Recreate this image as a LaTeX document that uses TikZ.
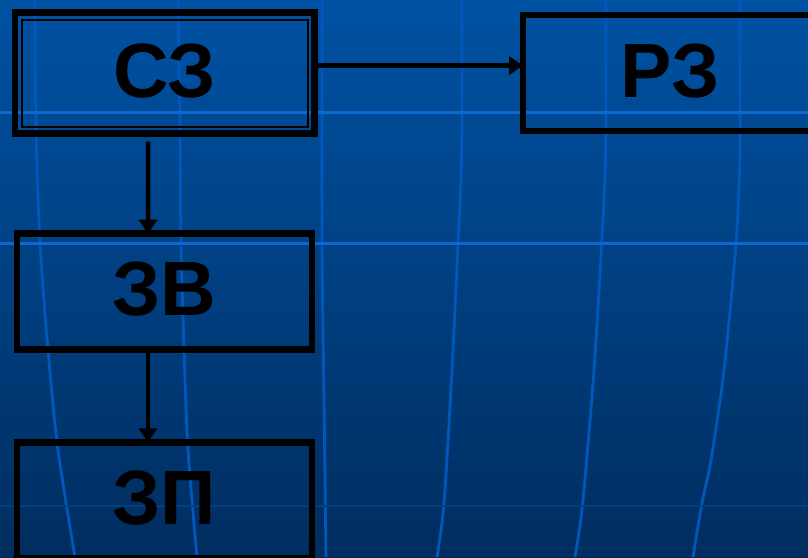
\documentclass[tikz,border=0pt]{standalone}
\usepackage{fontspec}
\setmainfont{Liberation Sans}
\usetikzlibrary{arrows.meta}
\definecolor{bgtop}{HTML}{0052A3}
\definecolor{bgbot}{HTML}{002D5F}
\definecolor{gridbright}{HTML}{0A6AD2}
\definecolor{gridcurve}{HTML}{0057BC}
\definecolor{griddark}{HTML}{00427F}
\begin{document}
\begin{tikzpicture}[x=1pt,y=-1pt,
  box/.style={draw=black,line width=6.5pt,minimum width=295pt,minimum height=116pt,
    outer sep=0pt,inner sep=0pt,font=\bfseries\fontsize{77}{80}\selectfont,text depth=5.5pt},
  arr/.style={draw=black,line width=4.5pt,-{Triangle[width=18pt,length=14pt]}},
  curve/.style={draw=gridcurve,line width=2.8pt},
  hline/.style={draw=gridbright,line width=3pt}]
\useasboundingbox (0,0) rectangle (808,557);
\clip (0,0) rectangle (808,557);
\shade[top color=bgtop,bottom color=bgbot] (0,0) rectangle (808,557);
% curved meridian lines
\draw[curve] plot[smooth] coordinates {(35,0) (36,130) (40,243) (48,350) (58,450) (75,557)};
\draw[curve] plot[smooth] coordinates {(178,0) (180,130) (181,243) (184,350) (188,450) (197,557)};
\draw[curve] plot[smooth] coordinates {(322,0) (322,243) (324,400) (326,557)};
\draw[curve] plot[smooth] coordinates {(462,0) (461.7,150) (458,243) (452,370) (444,503) (437,557)};
\draw[curve] plot[smooth] coordinates {(606,0) (605.7,150) (601.7,243) (594,370) (582.7,503) (575,557)};
\draw[curve] plot[smooth] coordinates {(740,0) (740,150) (736,243) (724,370) (711,460) (702,503) (693,557)};
% horizontal lines
\draw[hline] (0,112) -- (808,112);
\draw[hline] (0,243) -- (808,243);
\draw[draw=griddark,line width=2.5pt] (0,506) -- (808,506);
% boxes
\node[box,minimum width=299.5pt,minimum height=121pt] (sz) at (164.75,73) {СЗ};
\draw[line width=2pt] ([shift={(7,7.5)}]sz.north west) rectangle ([shift={(-6.5,-6.5)}]sz.south east);
\node[box,minimum width=294pt] (rz) at (670,73) {РЗ};
\node[box] (zv) at (164.5,291.7) {ЗВ};
\node[box] (zp) at (164.5,500.3) {ЗП};
% arrows
\draw[arr] ([shift={(0,-7.5)}]sz.east) -- ([shift={(0,-7.5)}]rz.west);
\draw[arr] ([shift={(-16.5,8)}]sz.south) -- ([shift={(-16.5,0)}]zv.north);
\draw[arr] ([shift={(-16.5,0)}]zv.south) -- ([shift={(-16.5,0)}]zp.north);
\end{tikzpicture}
\end{document}
